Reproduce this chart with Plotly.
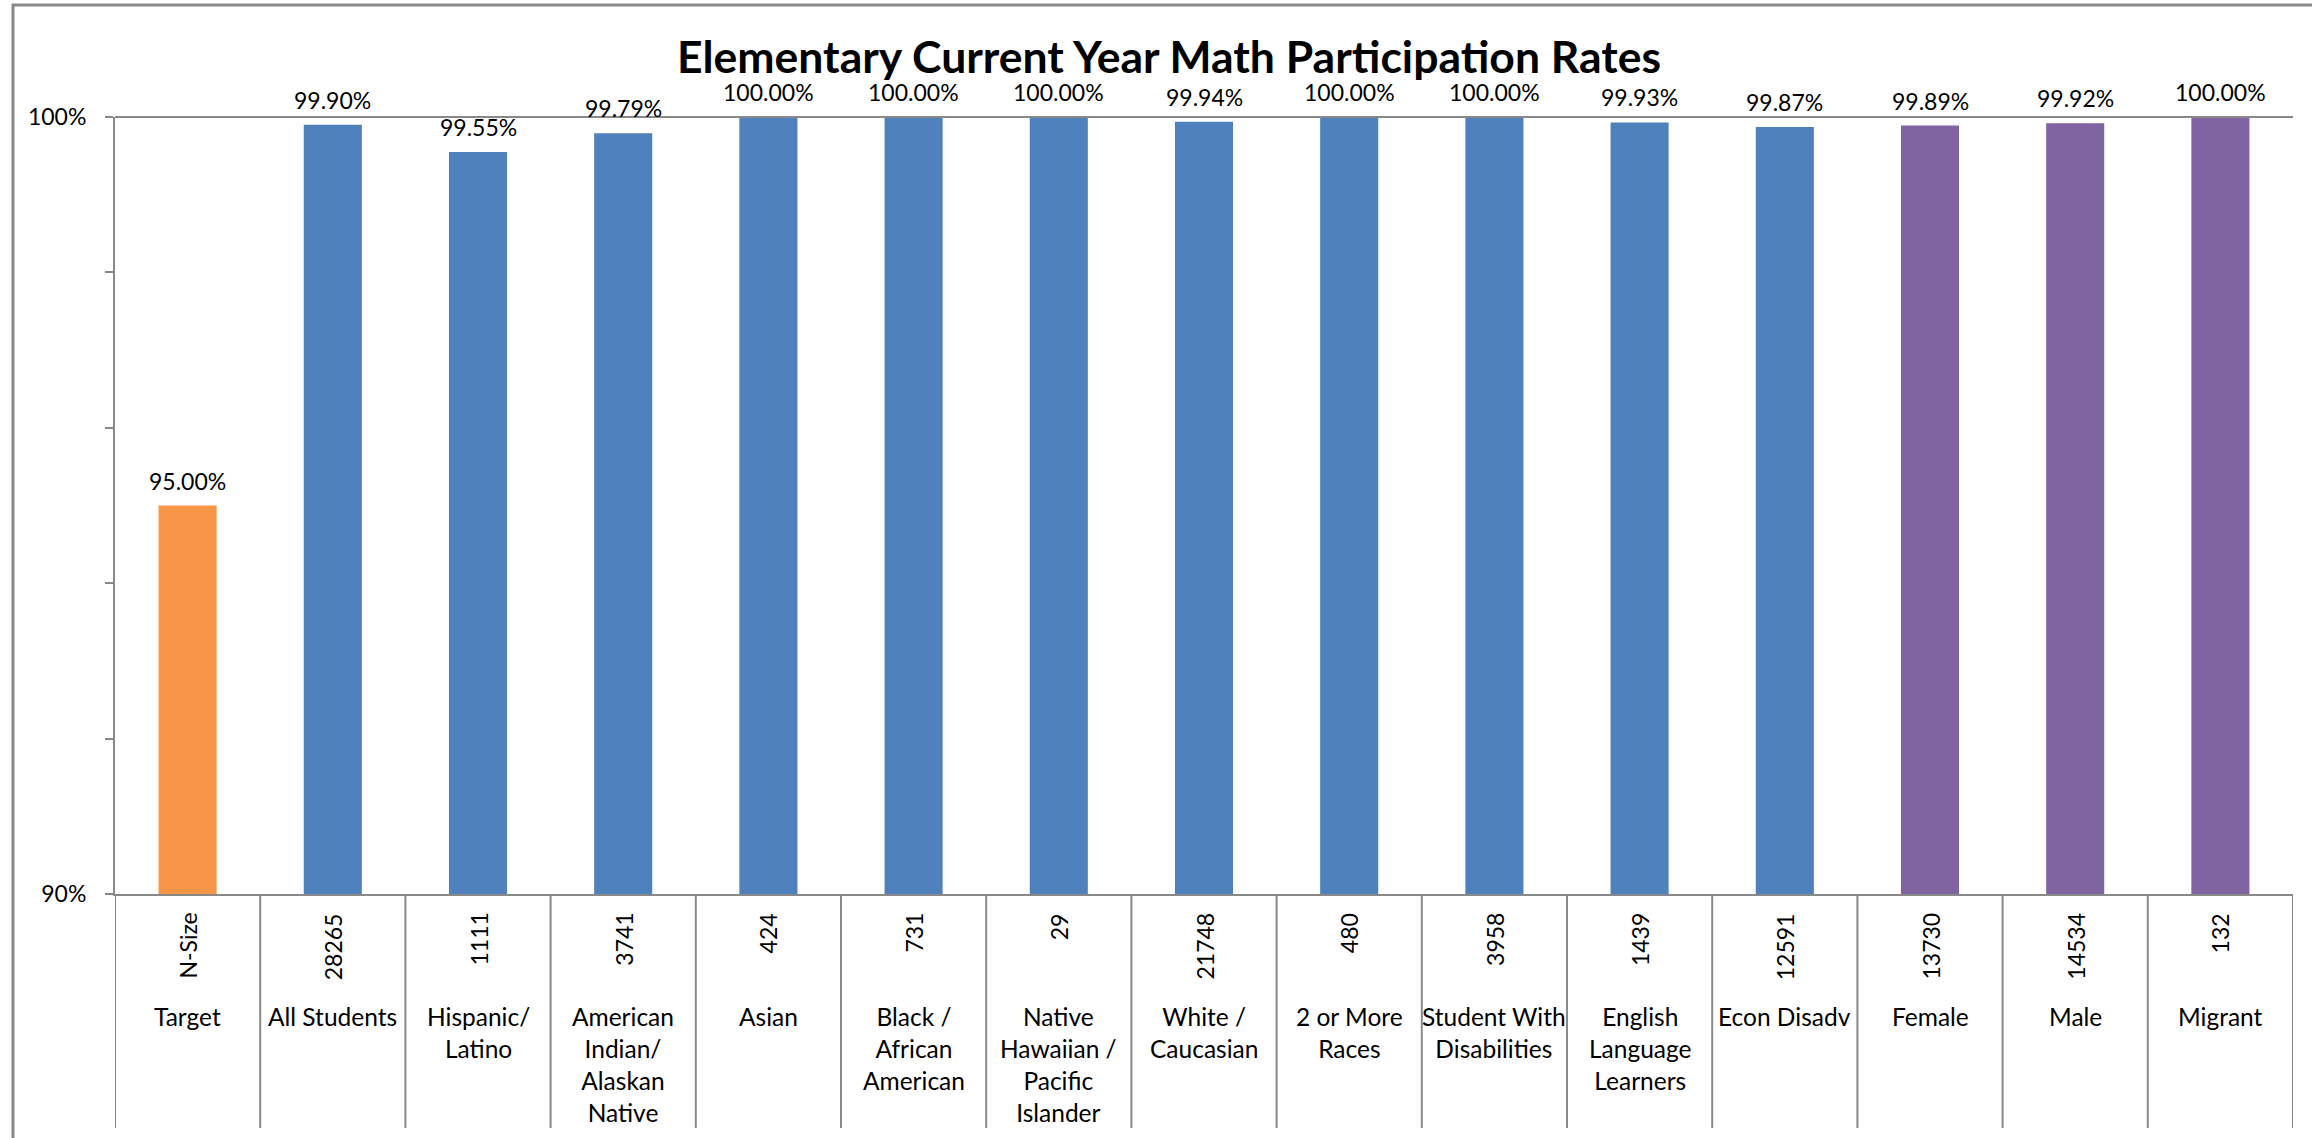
import plotly.graph_objects as go

# ---- data ----
categories = ["Target", "All Students", "Hispanic/<br>Latino",
              "American<br>Indian/<br>Alaskan<br>Native", "Asian",
              "Black /<br>African<br>American",
              "Native<br>Hawaiian /<br>Pacific<br>Islander",
              "White /<br>Caucasian", "2 or More<br>Races",
              "Student With<br>Disabilities",
              "English<br>Language<br>Learners", "Econ Disadv",
              "Female", "Male", "Migrant"]
n_sizes = ["N-Size", "28265", "1111", "3741", "424", "731", "29", "21748",
           "480", "3958", "1439", "12591", "13730", "14534", "132"]
rates = [95.00, 99.90, 99.55, 99.79, 100.00, 100.00, 100.00, 99.94,
         100.00, 100.00, 99.93, 99.87, 99.89, 99.92, 100.00]
groups = ["target"] + ["race"] * 11 + ["gender"] * 3
y_tick_vals = [90, 92, 94, 96, 98, 100]
y_tick_text = ["90%", "", "", "", "", "100%"]
title_text = "Elementary Current Year Math Participation Rates"

group_colors = {"target": "#F79646", "race": "#4F81BD", "gender": "#8064A2"}
GRAY = "#898989"
FONT = "Lato, 'Open Sans', sans-serif"

W, H = 2312, 1138
ML, MR, MT, MB = 115, 19, 117, 244
plot_w = W - ML - MR
plot_h = H - MT - MB

xs = list(range(len(categories)))

fig = go.Figure()
fig.add_trace(go.Bar(
    x=xs, y=rates, base=0,
    marker=dict(color=[group_colors[g] for g in groups], line=dict(width=0)),
    width=0.4, showlegend=False, hoverinfo="skip",
))

annotations = []
for i, v in enumerate(rates):
    annotations.append(dict(x=i, y=v, xref="x", yref="y", text=f"{v:.2f}%",
                            showarrow=False, yanchor="bottom", yshift=9,
                            font=dict(family=FONT, size=23, color="#000000")))
    annotations.append(dict(x=i, y=0, xref="x", yref="paper", text=n_sizes[i],
                            showarrow=False, textangle=-90, yanchor="top",
                            xanchor="center", yshift=-17,
                            font=dict(family=FONT, size=23, color="#000000")))
    annotations.append(dict(x=i, y=0, xref="x", yref="paper", text=categories[i],
                            showarrow=False, yanchor="top", xanchor="center",
                            yshift=-106, align="center",
                            font=dict(family=FONT, size=24.5, color="#000000")))

shapes = []
# table separators below the axis
for i in range(len(categories) + 1):
    shapes.append(dict(type="line", xref="x", yref="paper",
                       x0=i - 0.5, x1=i - 0.5, ysizemode="pixel", yanchor=0,
                       y0=0, y1=-234, line=dict(color=GRAY, width=2)))
# top gridline at 100%
shapes.append(dict(type="line", xref="paper", yref="y domain", x0=0, x1=1,
                   y0=1, y1=1, line=dict(color=GRAY, width=2)))
# outer chart border
shapes.append(dict(type="rect", xref="paper", yref="paper",
                   x0=(13 - ML) / plot_w, x1=(W + 20 - ML) / plot_w,
                   y0=-(MB + 20) / plot_h, y1=(plot_h + MT - 5) / plot_h,
                   line=dict(color=GRAY, width=3), layer="below"))

fig.update_layout(
    width=W, height=H,
    margin=dict(l=ML, r=MR, t=MT, b=MB, pad=0),
    paper_bgcolor="white", plot_bgcolor="white",
    title=dict(text=f"<b>{title_text}</b>", x=1169 / W, xref="container",
               xanchor="center", y=1 - 57 / H, yref="container", yanchor="middle",
               font=dict(family=FONT, size=44.5, color="#000000")),
    xaxis=dict(range=[-0.5, len(categories) - 0.5], showticklabels=False,
               ticks="", showgrid=False, zeroline=False, showline=True,
               linecolor=GRAY, linewidth=2, fixedrange=True),
    yaxis=dict(range=[90, 100], tickvals=y_tick_vals, ticktext=y_tick_text,
               ticks="outside", ticklen=8, tickcolor=GRAY, tickwidth=2,
               ticklabelstandoff=14,
               showgrid=False, zeroline=False, showline=True, linecolor=GRAY,
               linewidth=2, tickfont=dict(family=FONT, size=23, color="#000000"),
               fixedrange=True),
    annotations=annotations, shapes=shapes,
    bargap=0.6,
)

fig.write_html("out.html",
               config={"displayModeBar": False},
               post_script="document.body.style.margin='0px';"
                           "document.body.style.overflow='hidden';")
